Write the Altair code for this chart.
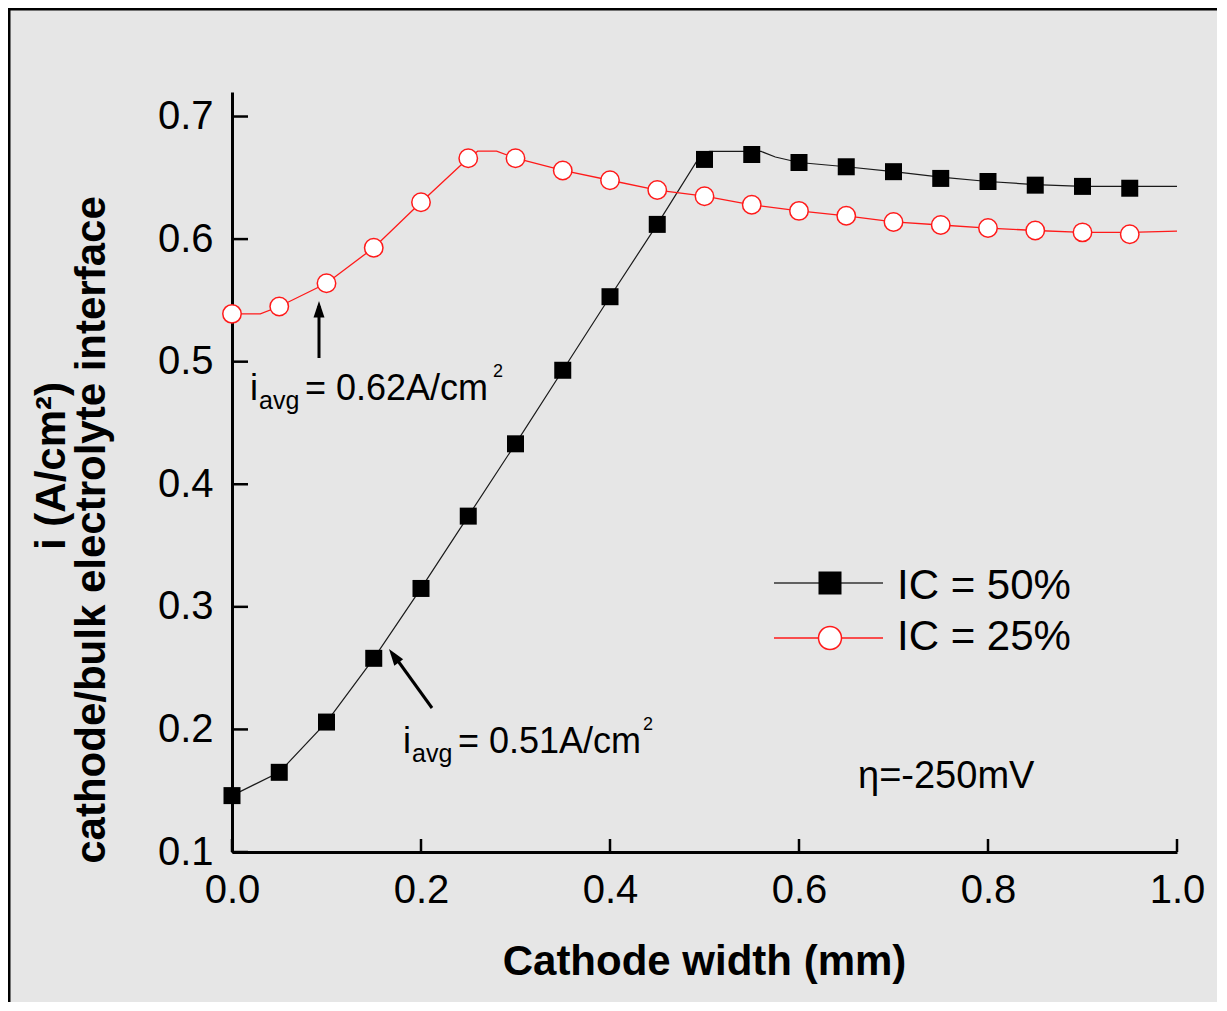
import altair as alt
import pandas as pd

# ---------------- data ----------------
x_markers = [0.00, 0.05, 0.10, 0.15, 0.20, 0.25, 0.30, 0.35, 0.40, 0.45,
             0.50, 0.55, 0.60, 0.65, 0.70, 0.75, 0.80, 0.85, 0.90, 0.95]
ic50_markers = [0.146, 0.165, 0.206, 0.258, 0.315, 0.374, 0.433, 0.493, 0.553, 0.612,
                0.665, 0.669, 0.6625, 0.659, 0.655, 0.6495, 0.647, 0.644, 0.643, 0.6415]
ic25_markers = [0.539, 0.545, 0.564, 0.593, 0.630, 0.666, 0.666, 0.656, 0.648, 0.640,
                0.635, 0.628, 0.623, 0.619, 0.614, 0.6115, 0.609, 0.607, 0.6055, 0.604]

ic50_line_x = [0.0, 0.05, 0.1, 0.15, 0.2, 0.25, 0.3, 0.35, 0.4, 0.45, 0.493, 0.505,
               0.56, 0.575, 0.6, 0.65, 0.7, 0.75, 0.8, 0.85, 0.9, 0.95, 1.0]
ic50_line_y = [0.146, 0.165, 0.206, 0.258, 0.315, 0.374, 0.433, 0.493, 0.553, 0.612, 0.665, 0.6715,
               0.6715, 0.667, 0.6625, 0.659, 0.655, 0.6505, 0.647, 0.6445, 0.643, 0.643, 0.643]
ic25_line_x = [0.0, 0.03, 0.05, 0.1, 0.15, 0.2, 0.25, 0.26, 0.28, 0.3, 0.35, 0.4, 0.45,
               0.5, 0.55, 0.6, 0.65, 0.7, 0.75, 0.8, 0.85, 0.9, 0.95, 1.0]
ic25_line_y = [0.539, 0.539, 0.545, 0.564, 0.593, 0.630, 0.666, 0.6717, 0.6717, 0.666, 0.656, 0.648, 0.640,
               0.635, 0.628, 0.623, 0.619, 0.614, 0.6115, 0.609, 0.607, 0.6055, 0.6055, 0.6065]

x_ticks = [0.0, 0.2, 0.4, 0.6, 0.8, 1.0]
y_ticks = [0.1, 0.2, 0.3, 0.4, 0.5, 0.6, 0.7]

series_names = ["IC = 50%", "IC = 25%"]

# ---------------- layout constants ----------------
W, H = 945, 760
FONT = "Liberation Sans"
RED = "#ff1a1a"
BG = "#e6e6e6"

xs = alt.Scale(domain=[0, 1], nice=False, zero=False)
ys = alt.Scale(domain=[0.1, 0.72], nice=False, zero=False)

line50 = pd.DataFrame({"x": ic50_line_x, "y": ic50_line_y})
line25 = pd.DataFrame({"x": ic25_line_x, "y": ic25_line_y})
m50 = pd.DataFrame({"x": x_markers, "y": ic50_markers})
m25 = pd.DataFrame({"x": x_markers, "y": ic25_markers})

base_x = alt.X("x:Q", scale=xs, axis=alt.Axis(
    values=x_ticks, format=".1f", title=None, ticks=False, tickSize=0, grid=False,
    labelFont=FONT, labelFontSize=40, labelColor="black", labelPadding=18,
    domainColor="black", domainWidth=3, labelFlush=False))
base_y = alt.Y("y:Q", scale=ys, axis=alt.Axis(
    values=y_ticks, format=".1f", title=None, ticks=False, tickSize=0, grid=False,
    labelFont=FONT, labelFontSize=40, labelColor="black", labelPadding=19,
    domainColor="black", domainWidth=3, labelFlush=False))

l50 = alt.Chart(line50).mark_line(color="#1a1a1a", strokeWidth=1.2).encode(x=base_x, y=base_y)
l25 = alt.Chart(line25).mark_line(color=RED, strokeWidth=1.3).encode(x="x:Q", y="y:Q")
p50 = alt.Chart(m50).mark_point(shape="square", filled=True, color="black",
                                size=289, opacity=1).encode(x="x:Q", y="y:Q")
p25 = alt.Chart(m25).mark_point(shape="circle", filled=True, fill="white", stroke=RED,
                                strokeWidth=1.5, size=340, opacity=1).encode(x="x:Q", y="y:Q")

# inward ticks
xt = alt.Chart(pd.DataFrame({"t": x_ticks})).mark_rule(color="black", strokeWidth=2.5).encode(
    x="t:Q", y=alt.value(H), y2=alt.value(H - 13))
yt = alt.Chart(pd.DataFrame({"t": y_ticks})).mark_rule(color="black", strokeWidth=2.5).encode(
    y="t:Q", x=alt.value(0), x2=alt.value(16))

# arrows
def seg(x1, y1, x2, y2, color="black", width=3):
    return alt.Chart(pd.DataFrame({"a": [0]})).mark_rule(color=color, strokeWidth=width).encode(
        x=alt.value(x1), y=alt.value(y1), x2=alt.value(x2), y2=alt.value(y2))

ARROW = "M0,0L-0.33,1L0.33,1Z"
def head(x, y, ang):
    return alt.Chart(pd.DataFrame({"a": [0]})).mark_point(
        shape=ARROW, filled=True, color="black", size=1100, opacity=1, angle=ang).encode(
        x=alt.value(x), y=alt.value(y))

arrows = [seg(87, 266, 87, 214), head(87, 209, 0),
          seg(200, 616, 161, 562), head(157, 557, 324)]

def txt(s, x, y, size, weight="normal", align="left", angle=0, baseline="alphabetic"):
    return alt.Chart(pd.DataFrame({"t": [s]})).mark_text(
        font=FONT, fontSize=size, fontWeight=weight, align=align, baseline=baseline,
        angle=angle, color="black").encode(
        x=alt.value(x), y=alt.value(y), text="t:N")

texts = [
    # annotation 1
    txt("i", 18, 308, 36), txt("avg", 27, 317, 25), txt("= 0.62A/cm", 73, 308, 36),
    txt("2", 261, 285, 18),
    # annotation 2
    txt("i", 171, 661, 36), txt("avg", 180, 670, 25), txt("= 0.51A/cm", 226, 661, 36),
    txt("2", 411, 638, 18),
    # eta
    txt("η=-250mV", 626, 696, 38),
    # axis titles
    txt("Cathode width (mm)", W / 2, 883, 42, weight="bold", align="center"),
    txt("i (A/cm²)", -167, 374, 42, weight="bold", align="center", angle=270),
    txt("cathode/bulk electrolyte interface", -127, 438, 42, weight="bold",
        align="center", angle=270),
    # legend labels
    txt(series_names[0], 665, 507, 42), txt(series_names[1], 665, 558, 42),
]

legend = [
    seg(542, 491, 651, 491, color="#333333", width=1.6),
    alt.Chart(pd.DataFrame({"a": [0]})).mark_point(shape="square", filled=True, color="black",
                                                   size=529, opacity=1).encode(
        x=alt.value(598), y=alt.value(491)),
    seg(542, 546, 651, 546, color=RED, width=1.5),
    alt.Chart(pd.DataFrame({"a": [0]})).mark_point(shape="circle", filled=True, fill="white",
                                                   stroke=RED, strokeWidth=1.5, size=529,
                                                   opacity=1).encode(
        x=alt.value(598), y=alt.value(546)),
]

frame = [seg(-224, -83, W + 40, -83, width=3), seg(-223, -84, -223, H + 150, width=3)]

chart = alt.layer(l50, l25, p50, p25, xt, yt, *arrows, *texts, *legend, *frame).properties(
    width=W, height=H,
    autosize=alt.AutoSizeParams(type="none"),
    padding={"left": 224, "top": 84, "right": 40, "bottom": 150},
    background=BG,
).configure_view(stroke=None)

chart.save("out.html", embed_options={"renderer": "svg", "actions": False})
